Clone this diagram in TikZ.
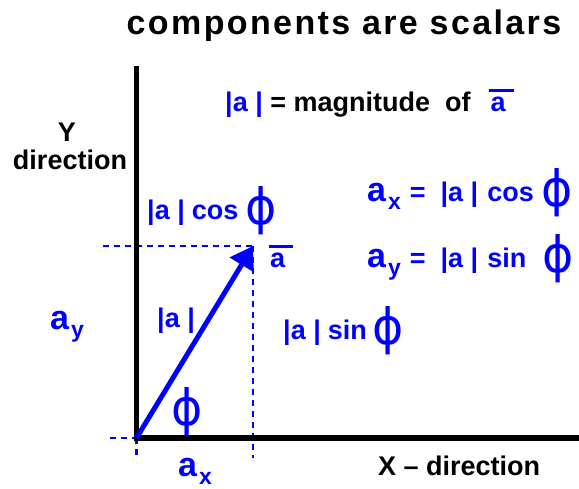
\documentclass[tikz,border=0pt]{standalone}
\usepackage{fontspec}
\setmainfont{Liberation Sans}
\newfontfamily\phifont{DejaVu Sans}
\usetikzlibrary{arrows.meta}
\definecolor{vecblue}{RGB}{0,0,255}
\newcommand\phisym{\raisebox{-5pt}{\scalebox{0.95}[1]{\phifont\mdseries\fontsize{50}{50}\selectfont ϕ}}}
\newcommand\abar{\rlap{\hspace{-0.05em}\rule[0.75em]{0.9em}{0.11em}}a}
\newcommand\biga[1]{{\fontsize{34}{36}\selectfont a}\hspace{2pt}\raisebox{-8pt}{\fontsize{23}{24}\selectfont #1}}
\tikzset{
  axis/.style={line width=5.5pt},
  guide/.style={vecblue, line width=2.5pt, dash pattern=on 6pt off 5pt},
  vector/.style={vecblue, line width=5pt, -{Triangle[length=22pt,width=27pt]}},
  lbl/.style={inner sep=0pt, anchor=base west, font=\fontsize{27}{30}\selectfont\bfseries},
  bluelbl/.style={lbl, text=vecblue},
  titlelbl/.style={inner sep=0pt, anchor=base, font=\fontsize{34}{38}\selectfont\bfseries\addfontfeature{LetterSpace=7}}
}
\begin{document}
\begin{tikzpicture}[x=1pt, y=-1pt]
    \useasboundingbox (0,0) rectangle (579,489);
    \coordinate (O) at (136.5,438);
    \coordinate (Ytop) at (136.5,66);
    \coordinate (Xend) at (579,438);
    \coordinate (A) at (253,246);
    \coordinate (Aleft) at (103,246);
    \coordinate (Abot) at (253,458);
    \coordinate (Oleft) at (110,438);
    \coordinate (Obot) at (136.5,458);
    \draw[guide] (Aleft) -- (A);
    \draw[guide] (A) -- (Abot);
    \draw[guide] (Oleft) -- (O);
    \draw[guide] (O) -- (Obot);
    \draw[axis] (Ytop) -- (O) -- (Xend);
    \draw[vector] (O) -- (A);
    \node[titlelbl] (title) at (344,35) {components are scalars};
    \node[lbl, anchor=base] (ylbl) at (67,142) {Y};
    \node[lbl, anchor=base] (ydir) at (70,170) {direction};
    \node[lbl] (mag) at (225,112) {\textcolor{vecblue}{|a |} = magnitude\hspace{15pt}of\hspace{20pt}\textcolor{vecblue}{\abar}};
    \node[bluelbl] (cosl) at (147,220) {|a |\hspace{7pt}cos\hspace{7pt}\phisym};
    \node[bluelbl] (abarl) at (270,268) {\abar};
    \node[bluelbl] (axeq) at (367,202) {\biga{x}\hspace{9pt}=\hspace{15pt}|a |\hspace{9pt}cos\hspace{8pt}\phisym};
    \node[bluelbl] (ayeq) at (367,268) {\biga{y}\hspace{9pt}=\hspace{15pt}|a |\hspace{9pt}sin\hspace{16pt}\phisym};
    \node[bluelbl] (ayl) at (50,330) {\biga{y}};
    \node[bluelbl] (magl) at (157,328) {|a |};
    \node[bluelbl] (sinl) at (283,340) {|a |\hspace{7pt}sin\hspace{6pt}\phisym};
    \node[text=vecblue, inner sep=0pt] (phil) at (187,412) {\phisym};
    \node[bluelbl] (axl) at (178,476) {\biga{x}};
    \node[lbl] (xdir) at (378,475) {X – direction};
\end{tikzpicture}
\end{document}
